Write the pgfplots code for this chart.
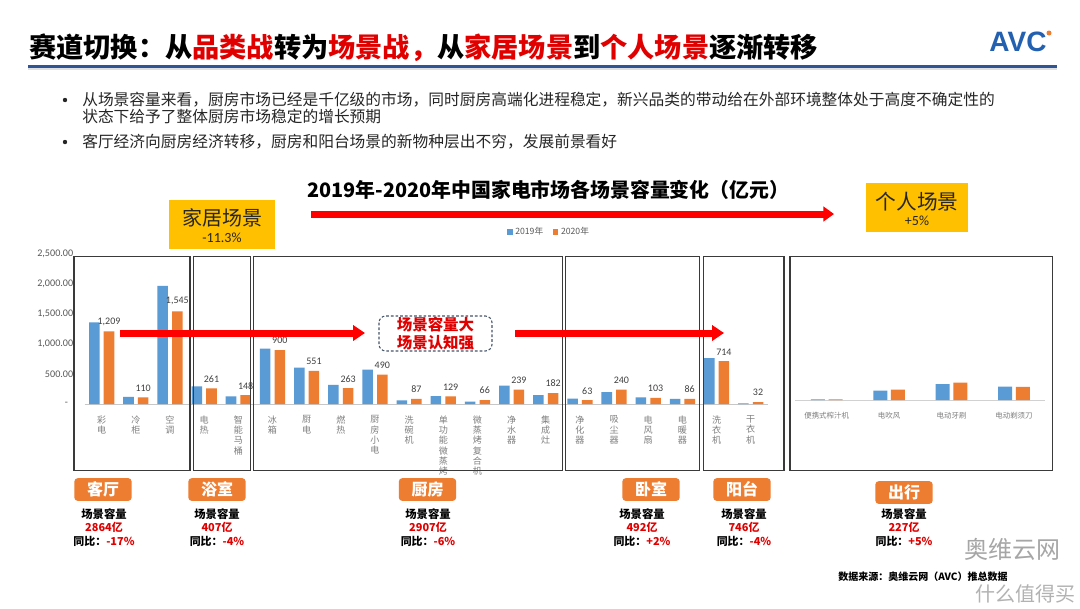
\documentclass[border=0pt]{standalone}
\usepackage{fontspec}
\setmainfont{Noto Sans CJK SC}
\newfontfamily\numfont{Carlito}
\newfontfamily\logofont{Liberation Sans}
\usepackage{pgfplots}
\usepackage{pgfplotstable}
\pgfplotsset{compat=1.18}
\usetikzlibrary{arrows.meta}

\definecolor{barblue}{HTML}{5B9BD5}
\definecolor{barorange}{HTML}{ED7D31}
\definecolor{gold}{HTML}{FFC000}
\definecolor{arrowred}{HTML}{FF0000}
\definecolor{titlered}{HTML}{E00000}
\definecolor{lineblue}{HTML}{2F5597}
\definecolor{logoblue}{HTML}{2360B0}
\definecolor{txtgray}{HTML}{595959}
\definecolor{lblgray}{HTML}{7F7F7F}
\definecolor{boxline}{HTML}{3A3A3A}
\definecolor{dashblue}{HTML}{44546A}

% home scenes: 2019 / 2020, 100 million yuan
\pgfplotstableread{
idx y2019 y2020
0  1360 1209
1  120  110
2  1970 1545
3  295  261
4  129  148
5  922  900
6  605  551
7  317  263
8  572  490
9  60   87
10 133  129
11 38   66
12 305  239
13 150  182
14 88   63
15 200  240
16 110  103
17 84   86
18 765  714
19 12   32
}\homedata

% personal scene (own scale)
\pgfplotstableread{
idx y2019 y2020
0 4  3
1 51 57
2 87 95
3 74 72
}\outdata

\begin{document}
\begin{tikzpicture}
\begin{scope}[x=0.75pt,y=-0.75pt]
\fill[white] (0,0) rectangle (1080,608);
\path[use as bounding box] (0,0) rectangle (1080,608);
\end{scope}

\begin{axis}[
  at={(63.45pt,-303pt)}, anchor=south west,
  scale only axis, width=512.4pt, height=112.5pt,
  xmin=-0.5, xmax=19.5, ymin=0, ymax=2500,
  ybar=3.1pt, bar width=7.9pt,
  axis lines*=left,
  x axis line style={draw=black!22, -},
  y axis line style={draw=none},
  tick style={draw=none},
  ytick={0,500,1000,1500,2000,2500},
  yticklabels={{-\hspace*{4pt}},500.00,{1,000.00},{1,500.00},{2,000.00},{2,500.00}},
  yticklabel style={font=\numfont\fontsize{7.6}{8}\selectfont, text=txtgray, xshift=-5pt},
  xtick={0,...,19},
  xticklabels={彩\\电, 冷\\柜, 空\\调, 电\\热, 智\\能\\马\\桶, 冰\\箱, 厨\\电, 燃\\热, 厨\\房\\小\\电, 洗\\碗\\机, 单\\功\\能\\微\\蒸\\烤, 微\\蒸\\烤\\复\\合\\机, 净\\水\\器, 集\\成\\灶, 净\\化\\器, 吸\\尘\\器, 电\\风\\扇, 电\\暖\\器, 洗\\衣\\机, 干\\衣\\机},
  xticklabel style={align=center, anchor=north, text=lblgray, font=\fontsize{6.8}{7.7}\selectfont, yshift=-1pt},
  clip=false,
  legend style={at={(0.68,1.149)}, anchor=center, draw=none, fill=none, legend columns=2,
    font=\fontsize{6.5}{7}\selectfont, text=txtgray,
    /tikz/every even column/.append style={column sep=5pt}},
  legend image code/.code={\fill[#1] (0pt,-2.2pt) rectangle (4.4pt,2.2pt);},
  /pgf/number format/.cd, 1000 sep={,}, assume math mode=true,
]
\addplot[fill=barblue, draw=none] table[x=idx,y=y2019]{\homedata};
\addplot[fill=barorange, draw=none, nodes near coords,
  nodes near coords style={font=\numfont\fontsize{7.5}{8}\selectfont, text=black!75, yshift=1pt}]
  table[x=idx,y=y2020]{\homedata};
\legend{2019年,2020年}
\end{axis}

\begin{axis}[
  at={(596.6pt,-300pt)}, anchor=south west,
  scale only axis, width=187.3pt, height=105pt,
  xmin=-0.5, xmax=3.5, ymin=0, ymax=770,
  ybar=2.8pt, bar width=10.5pt,
  axis lines*=left,
  x axis line style={draw=black!18, -},
  y axis line style={draw=none},
  tick style={draw=none},
  ytick=\empty,
  xtick={0,1,2,3},
  xticklabels={便携式榨汁机,电吹风,电动牙刷,电动剃须刀},
  xticklabel style={text=lblgray, font=\fontsize{5.6}{6}\selectfont, yshift=-1pt},
  clip=false,
]
\addplot[fill=barblue, draw=none] table[x=idx,y=y2019]{\outdata};
\addplot[fill=barorange, draw=none] table[x=idx,y=y2020]{\outdata};
\end{axis}

\begin{scope}[x=0.75pt,y=-0.75pt]
% title and rule
\node[anchor=west, inner sep=0, font=\bfseries\fontsize{20.4}{24}\selectfont] at (29,48)
  {赛道切换：从\textcolor{titlered}{品类战}转为\textcolor{titlered}{场景战，}从\textcolor{titlered}{家居场景}到\textcolor{titlered}{个人场景}逐渐转移};
\draw[black!12, line width=1pt] (28,69) -- (1057,69);
\draw[lineblue, line width=1.6pt] (28,66.5) -- (1057,66.5);
\node[text=logoblue, font=\logofont\bfseries\fontsize{21}{21}\selectfont] at (1018,42) {AVC};
\fill[barorange] (1049,33) circle (2.5);

% bullets
\fill[black!85] (65,100) circle (2.2);
\fill[black!85] (65,142) circle (2.2);
\begin{scope}[every node/.style={anchor=west, inner sep=0, text=black!85, font=\fontsize{11.8}{14}\selectfont}]
\node at (82,100) {从场景容量来看，厨房市场已经是千亿级的市场，同时厨房高端化进程稳定，新兴品类的带动给在外部环境整体处于高度不确定性的};
\node at (82,116) {状态下给予了整体厨房市场稳定的增长预期};
\node at (82,142) {客厅经济向厨房经济转移，厨房和阳台场景的新物种层出不穷，发展前景看好};
\end{scope}

% chart title, big arrow, scene boxes
\node[anchor=west, inner sep=0, font=\bfseries\fontsize{14.9}{16}\selectfont] at (307,190)
  {2019年-2020年中国家电市场各场景容量变化（亿元）};
\draw[arrowred, line width=5.25pt, -{Triangle[length=8pt,width=11pt]}] (311,214) -- (834,214);
\fill[gold] (169,200) rectangle (275,249);
\node[text=black!85, font=\fontsize{15}{15}\selectfont] at (222,218) {家居场景};
\node[text=black!85, font=\numfont\fontsize{10.5}{10.5}\selectfont] at (222,238) {-11.3\%};
\fill[gold] (866,183) rectangle (968,232);
\node[text=black!85, font=\fontsize{15.5}{15.5}\selectfont] at (917,202) {个人场景};
\node[text=black!85, font=\numfont\fontsize{10.5}{10.5}\selectfont] at (917,221) {+5\%};

% group frames
\begin{scope}[boxline, line width=0.9pt]
\draw (74,256.5) rectangle (190,470.5);
\draw (193.7,256.5) rectangle (250.3,470.5);
\draw (253.7,256.5) rectangle (562.3,470.5);
\draw (565.7,256.5) rectangle (699.7,470.5);
\draw (703.3,256.5) rectangle (784,470.5);
\draw (790,256.5) rectangle (1052.3,470.5);
\end{scope}

% inner arrows and callout
\draw[arrowred, line width=5.25pt, -{Triangle[length=9pt,width=11.5pt]}] (120,333) -- (365,333);
\draw[dashblue, dash pattern=on 2pt off 1.5pt, rounded corners=5pt, line width=0.8pt] (379,316) rectangle (492,351);
\node[text=titlered, font=\bfseries\fontsize{11.6}{11.6}\selectfont] at (435.5,325) {场景容量大};
\node[text=titlered, font=\bfseries\fontsize{11.6}{11.6}\selectfont] at (435.5,343) {场景认知强};
\draw[arrowred, line width=5.25pt, -{Triangle[length=9pt,width=11.5pt]}] (515,333) -- (724,333);

% scene tags
\foreach \cx/\cy/\lab in {103/489.5/客厅, 217/489.5/浴室, 427.5/489.5/厨房, 651/489.5/卧室, 742/489.5/阳台, 904/492.5/出行} {
  \node[fill=barorange, rounded corners=2.5pt, minimum width=43pt, minimum height=17pt, inner sep=0,
    text=white, font=\bfseries\fontsize{12}{12}\selectfont] at (\cx,\cy) {\lab};
}
\foreach \cx/\vv/\pp in {104/2864/-17, 217/407/-4, 428/2907/-6, 642/492/+2, 744/746/-4, 904/227/+5} {
  \node[font=\bfseries\fontsize{8.5}{8.5}\selectfont] at (\cx,514) {场景容量};
  \node[text=titlered, font=\bfseries\fontsize{8.2}{8.2}\selectfont] at (\cx,527) {\vv 亿};
  \node[font=\bfseries\fontsize{8.2}{8.2}\selectfont] at (\cx,541) {同比：\textcolor{titlered}{\pp\%}};
}

% source and watermark
\node[anchor=west, inner sep=0, font=\bfseries\fontsize{7.5}{7.5}\selectfont] at (838,577) {数据来源：奥维云网（AVC）推总数据};
\node[text=black!35, font=\fontsize{18}{18}\selectfont] at (1012,549) {奥维云网};
\node[anchor=east, inner sep=0, text=black!30, font=\fontsize{15}{15}\selectfont] at (1076,594) {什么值得买};
\end{scope}
\end{tikzpicture}
\end{document}
